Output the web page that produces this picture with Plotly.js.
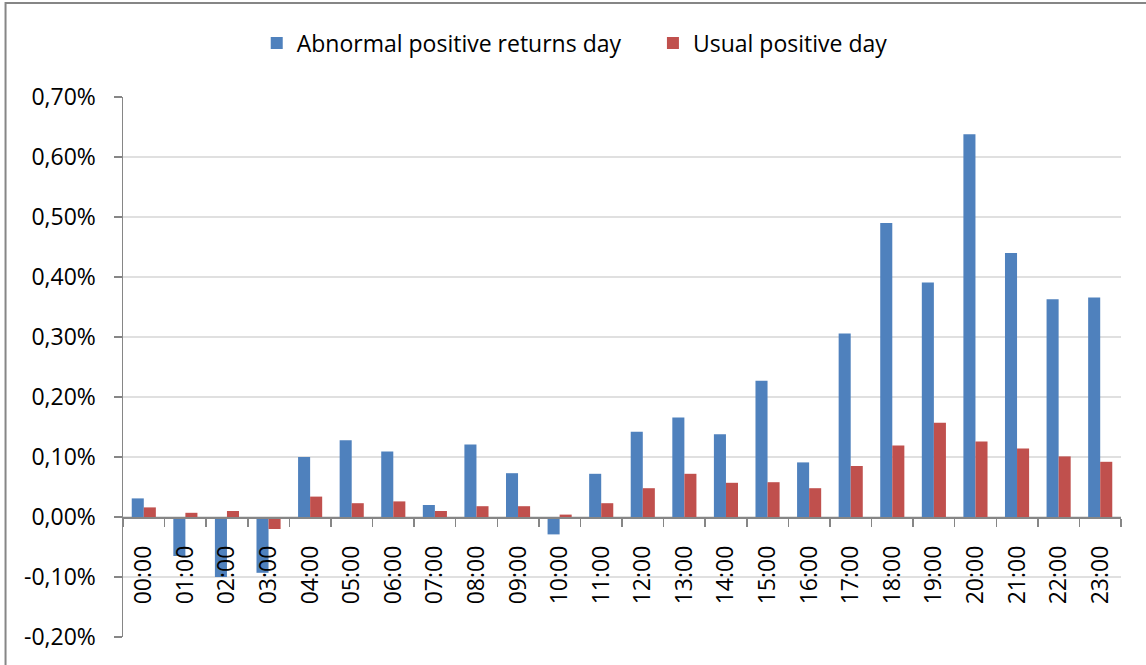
<!DOCTYPE html>
<html>
<head>
<meta charset="utf-8">
<script src="https://cdn.plot.ly/plotly-3.0.1.min.js"></script>
<style>html,body{margin:0;padding:0;background:#fff;}#chart{width:1146px;height:665px;}</style>
</head>
<body>
<div id="chart"></div>
<script>
const hours = ["00:00","01:00","02:00","03:00","04:00","05:00","06:00","07:00","08:00","09:00","10:00","11:00","12:00","13:00","14:00","15:00","16:00","17:00","18:00","19:00","20:00","21:00","22:00","23:00"];
const abnormalPositive = [0.031,-0.065,-0.100,-0.093,0.100,0.128,0.109,0.020,0.121,0.073,-0.029,0.072,0.142,0.166,0.138,0.227,0.091,0.306,0.490,0.391,0.638,0.440,0.363,0.366];
const usualPositive = [0.016,0.007,0.010,-0.020,0.034,0.023,0.026,0.010,0.018,0.018,0.004,0.023,0.048,0.072,0.057,0.058,0.048,0.085,0.119,0.157,0.126,0.114,0.101,0.092];
const yTicks = [-0.2,-0.1,0,0.1,0.2,0.3,0.4,0.5,0.6,0.7];
const yTickText = yTicks.map(v => v.toFixed(2).replace(".", ",") + "%");

const font = "Open Sans, Liberation Sans, sans-serif";

const traces = [
  {type:"bar", name:"Abnormal positive returns day", x:hours, y:abnormalPositive,
   marker:{color:"#4F81BD"}, legend:"legend"},
  {type:"bar", name:"Usual positive day", x:hours, y:usualPositive,
   marker:{color:"#C0504D"}, legend:"legend2"}
];

const legendFont = {family:font, size:23, color:"#000"};

const layout = {
  width:1146, height:665,
  margin:{l:123, r:25, t:97, b:28},
  paper_bgcolor:"#ffffff", plot_bgcolor:"#ffffff",
  font:{family:font, size:23, color:"#000"},
  barmode:"group", bargap:0.42, bargroupgap:0,
  showlegend:true,
  legend:{orientation:"h", x:0.134, xanchor:"left", y:1.1, yanchor:"middle",
          font:legendFont, bgcolor:"rgba(0,0,0,0)"},
  legend2:{orientation:"h", x:0.531, xanchor:"left", y:1.1, yanchor:"middle",
          font:legendFont, bgcolor:"rgba(0,0,0,0)"},
  xaxis:{type:"category", anchor:"free", position:2/9,
         showline:true, linecolor:"#868686", linewidth:1.5,
         ticks:"outside", tickson:"boundaries", ticklen:8, tickcolor:"#868686", tickwidth:1.5,
         tickangle:-90, showgrid:false, ticklabelstandoff:18,
         tickfont:{family:font, size:23, color:"#000"}},
  yaxis:{range:[-0.2,0.7], tickvals:yTicks, ticktext:yTickText,
         showline:true, linecolor:"#868686", linewidth:1.5,
         ticks:"outside", ticklen:8, tickcolor:"#868686", tickwidth:1.5,
         showgrid:true, gridcolor:"#e0e0e0", gridwidth:1.5, zeroline:false,
         ticklabelstandoff:13,
         tickfont:{family:font, size:23, color:"#000"}},
  shapes:[{type:"rect", xref:"paper", yref:"paper",
           x0:-0.1177, x1:1.2, y0:-0.3, y1:1.174,
           line:{color:"#868686", width:2}, fillcolor:"rgba(0,0,0,0)"}]
};

Plotly.newPlot("chart", traces, layout, {displayModeBar:false, staticPlot:true});
</script>
</body>
</html>
